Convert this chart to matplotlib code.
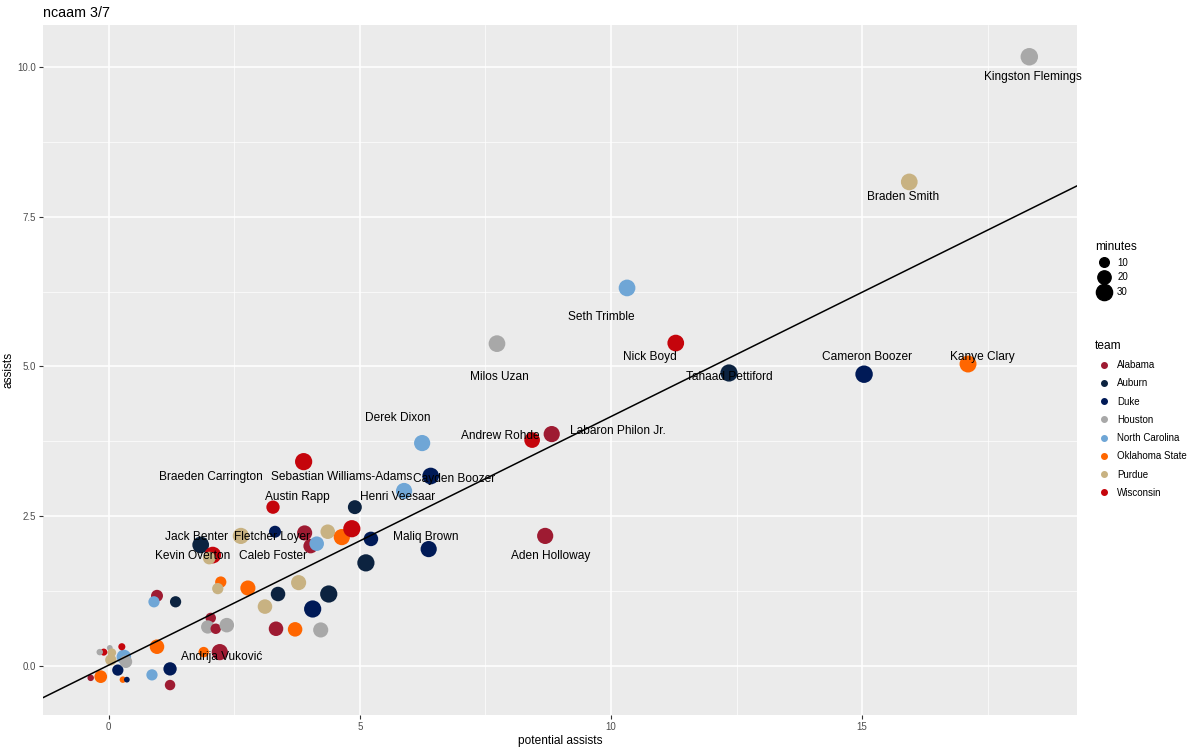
import matplotlib.pyplot as plt
from matplotlib.lines import Line2D

plt.rcParams['font.family'] = ['Liberation Sans', 'DejaVu Sans']

teams = ['Alabama', 'Auburn', 'Duke', 'Houston', 'North Carolina', 'Oklahoma State', 'Purdue', 'Wisconsin']
team_colors = ['#9E1B32', '#0C2340', '#001A57', '#A8A8A8', '#6FA6D6', '#FF6600', '#C8B282', '#C5050C']

# potential assists, assists, team, minutes
pot_ast = [18.33, 15.94, 10.32, 7.73, 11.29, 12.35, 15.04, 17.11, 6.24, 8.43, 8.82, 6.41,
           3.88, 4.90, 5.88, 3.27, 8.69, 6.37, 1.83, 2.07, 2.00, 2.63, 3.31, 2.21,
           3.90, 4.02, 4.14, 4.36, 4.64, 4.84, 5.22, 5.12, 2.23, 2.17, 2.77, 3.78,
           3.37, 4.38, 4.06, 3.11, 3.33, 3.71, 4.22, 2.03, 1.97, 2.13, 2.35, 0.96,
           0.90, 1.33, 0.96, 1.89, 1.22, 0.86, 1.22, -0.16, -0.36, 0.28, 0.36, 0.18,
           0.30, 0.34, 0.04, 0.02, 0.06, -0.10, -0.18, 0.26]
ast = [10.17, 8.08, 6.31, 5.38, 5.39, 4.89, 4.87, 5.04, 3.72, 3.77, 3.87, 3.17,
       3.41, 2.65, 2.92, 2.65, 2.17, 1.95, 2.02, 1.85, 1.80, 2.17, 2.24, 0.23,
       2.22, 2.00, 2.04, 2.24, 2.15, 2.29, 2.12, 1.72, 1.40, 1.29, 1.30, 1.39,
       1.20, 1.20, 0.95, 0.99, 0.62, 0.61, 0.60, 0.80, 0.65, 0.62, 0.68, 1.17,
       1.07, 1.07, 0.32, 0.23, -0.05, -0.15, -0.32, -0.18, -0.20, -0.23, -0.23, -0.07,
       0.15, 0.07, 0.10, 0.30, 0.22, 0.23, 0.23, 0.32]
team = ['Houston', 'Purdue', 'North Carolina', 'Houston', 'Wisconsin', 'Auburn', 'Duke', 'Oklahoma State',
        'North Carolina', 'Wisconsin', 'Alabama', 'Duke', 'Wisconsin', 'Auburn', 'North Carolina', 'Wisconsin',
        'Alabama', 'Duke', 'Auburn', 'Wisconsin', 'Purdue', 'Purdue', 'Duke', 'Alabama',
        'Alabama', 'Alabama', 'North Carolina', 'Purdue', 'Oklahoma State', 'Wisconsin', 'Duke', 'Auburn',
        'Oklahoma State', 'Purdue', 'Oklahoma State', 'Purdue', 'Auburn', 'Auburn', 'Duke', 'Purdue',
        'Alabama', 'Oklahoma State', 'Houston', 'Alabama', 'Houston', 'Alabama', 'Houston', 'Alabama',
        'North Carolina', 'Auburn', 'Oklahoma State', 'Oklahoma State', 'Duke', 'North Carolina', 'Alabama', 'Oklahoma State',
        'Alabama', 'Oklahoma State', 'Duke', 'Duke', 'North Carolina', 'Houston', 'Purdue', 'Houston',
        'Purdue', 'Wisconsin', 'Houston', 'Wisconsin']
minutes = [35, 32, 32, 32, 32, 34, 35, 33, 30, 28, 30, 32,
           34, 22, 30, 20, 30, 30, 32, 32, 18, 30, 16, 30,
           26, 24, 24, 24, 30, 34, 24, 34, 14, 14, 26, 26,
           24, 34, 34, 24, 24, 24, 26, 12, 20, 12, 24, 16,
           14, 14, 24, 12, 20, 14, 12, 18, 4, 4, 3, 14,
           24, 18, 14, 3, 8, 5, 4, 5]

labels = ['Kingston Flemings', 'Braden Smith', 'Seth Trimble', 'Milos Uzan', 'Nick Boyd', 'Tahaad Pettiford',
          'Cameron Boozer', 'Kanye Clary', 'Derek Dixon', 'Andrew Rohde', 'Labaron Philon Jr.', 'Cayden Boozer',
          'Sebastian Williams-Adams', 'Braeden Carrington', 'Henri Veesaar', 'Austin Rapp', 'Jack Benter',
          'Fletcher Loyer', 'Maliq Brown', 'Kevin Overton', 'Caleb Foster', 'Aden Holloway', 'Andrija Vuković']
label_x = [18.41, 15.82, 9.80, 7.77, 10.78, 12.35, 15.10, 17.39, 5.76, 7.79, 10.14, 6.87,
           4.64, 2.03, 5.76, 3.75, 1.75, 3.25, 6.31, 1.67, 3.27, 8.79, 2.25]
label_y = [9.84, 7.83, 5.83, 4.82, 5.16, 4.82, 5.16, 5.16, 4.14, 3.84, 3.92, 3.12,
           3.15, 3.15, 2.82, 2.82, 2.15, 2.15, 2.15, 1.84, 1.84, 1.84, 0.15]

fit_slope = 0.415
fit_intercept = 0.013

size_of = lambda m: 4 + 4.4 * m
color_of = dict(zip(teams, team_colors))

fig = plt.figure(figsize=(12, 7.51), dpi=100)
ax = fig.add_axes([43 / 1200, 36 / 751, 1034 / 1200, 690 / 751])
ax.set_facecolor('#EBEBEB')
ax.set_xlim(-1.31, 19.28)
ax.set_ylim(-0.82, 10.7)
ax.set_xticks([0, 5, 10, 15])
ax.set_xticks([2.5, 7.5, 12.5, 17.5], minor=True)
ax.set_yticks([0, 2.5, 5, 7.5, 10])
ax.set_yticks([1.25, 3.75, 6.25, 8.75], minor=True)
ax.set_yticklabels(['0.0', '2.5', '5.0', '7.5', '10.0'])
ax.grid(True, which='major', color='white', linewidth=1.1)
ax.grid(True, which='minor', color='white', linewidth=0.5)
ax.set_axisbelow(True)
for s in ax.spines.values():
    s.set_visible(False)
ax.tick_params(which='major', colors='#333333', labelsize=7, length=3, pad=2, labelcolor='#4D4D4D')
ax.tick_params(which='minor', length=0)

ax.scatter(pot_ast, ast, s=[size_of(m) for m in minutes], c=[color_of[t] for t in team],
           linewidths=0, zorder=3)
xs = [-1.31, 19.28]
ax.plot(xs, [fit_slope * x + fit_intercept for x in xs], color='black', lw=1.1, zorder=4)
for name, lx, ly in zip(labels, label_x, label_y):
    ax.text(lx, ly, name, ha='center', va='center', fontsize=8.6, zorder=5)

ax.set_xlabel('potential assists', fontsize=8.6, labelpad=2)
ax.set_ylabel('assists', fontsize=8.6, labelpad=2)
ax.set_title('ncaam 3/7', loc='left', fontsize=10.3, pad=6)

min_handles = [Line2D([], [], marker='o', ls='', color='black', markersize=size_of(m) ** 0.5)
               for m in [10, 20, 30]]
fig.legend(min_handles, ['10', '20', '30'], title='minutes', loc='upper left',
           bbox_to_anchor=(1086 / 1200, 1 - 232 / 751), frameon=False, fontsize=7,
           title_fontsize=8.6, alignment='left', handletextpad=0.3, labelspacing=0.5)
team_handles = [Line2D([], [], marker='o', ls='', color=c, markersize=4) for c in team_colors]
fig.legend(team_handles, teams, title='team', loc='upper left',
           bbox_to_anchor=(1086 / 1200, 1 - 331 / 751), frameon=False, fontsize=7,
           title_fontsize=8.6, alignment='left', handletextpad=0.3, labelspacing=0.85)

fig.savefig('out.png', dpi=100)
